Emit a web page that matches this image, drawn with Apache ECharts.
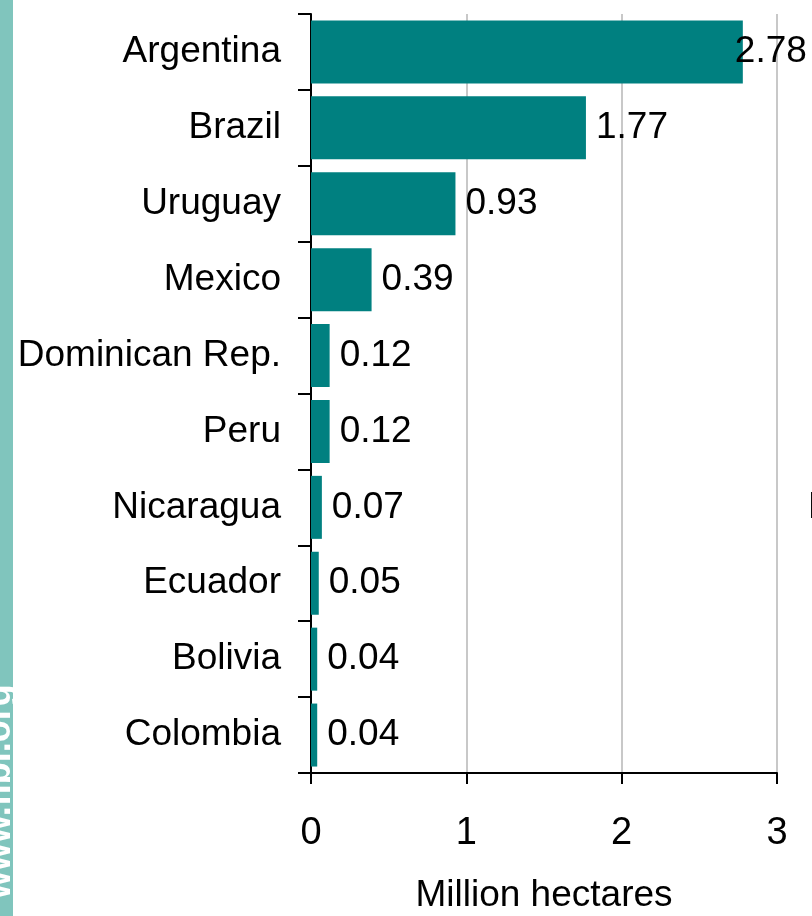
<!DOCTYPE html>
<html>
<head>
    <meta charset="UTF-8">
    <title>Organic land Latin America</title>
    <script src="https://cdn.jsdelivr.net/npm/echarts@6/dist/echarts.min.js"></script>
</head>
<body style="margin: 0;overflow: hidden;background: #fff;">
<div id="chart" style="width: 812px;height: 916px"></div>
<script type="text/javascript">
    // top to bottom as drawn
    var countries = ['Argentina', 'Brazil', 'Uruguay', 'Mexico', 'Dominican Rep.', 'Peru',
        'Nicaragua', 'Ecuador', 'Bolivia', 'Colombia'];
    var hectares = [2.78, 1.77, 0.93, 0.39, 0.12, 0.12, 0.07, 0.05, 0.04, 0.04];
    var xTicks = [0, 1, 2, 3];

    var font = 'Liberation Sans, Arial, sans-serif';
    var chart = echarts.init(document.getElementById('chart'));

    // the biggest label gets pulled back onto its bar so it stays inside the plot
    var barData = hectares.map(function (v, i) {
        if (v > 2.6) {
            return {value: v, label: {distance: -8}};
        }
        return v;
    });

    var option = {
        backgroundColor: '#fff',
        animation: false,
        grid: {left: 311, right: 35, top: 14, bottom: 143, outerBoundsMode: 'none'},
        xAxis: {
            type: 'value',
            min: xTicks[0],
            max: xTicks[xTicks.length - 1],
            interval: 1,
            name: 'Million hectares',
            nameLocation: 'middle',
            nameGap: 104,
            nameTextStyle: {color: '#000', fontSize: 37, fontFamily: font},
            axisLine: {show: true, lineStyle: {color: '#000', width: 2}},
            axisTick: {show: true, length: 11, lineStyle: {color: '#000', width: 2}},
            axisLabel: {color: '#000', fontSize: 38, fontFamily: font, margin: 42},
            splitLine: {show: true, lineStyle: {color: '#c8c8c8', width: 2}}
        },
        yAxis: {
            type: 'category',
            data: countries,
            inverse: true,
            axisLine: {show: true, lineStyle: {color: '#000', width: 2}},
            axisTick: {show: true, length: 13, lineStyle: {color: '#000', width: 2}},
            axisLabel: {color: '#000', fontSize: 37, fontFamily: font, margin: 30, padding: [4, 0, 0, 0]},
            splitLine: {show: false}
        },
        series: [{
            type: 'bar',
            data: barData,
            barCategoryGap: '17%',
            itemStyle: {color: '#008080'},
            label: {
                show: true,
                position: 'right',
                distance: 10,
                padding: [4, 0, 0, 0],
                color: '#000',
                fontSize: 37,
                fontFamily: font,
                formatter: function (p) {
                    return p.value.toFixed(2);
                }
            }
        }],
        graphic: [{
            type: 'rect',
            left: 0,
            top: 0,
            shape: {width: 13, height: 916},
            style: {fill: '#80c5bd'},
            z: 1
        }, {
            type: 'text',
            x: 18,
            y: 899,
            rotation: Math.PI / 2,
            z: 2,
            style: {
                text: 'www.fibl.org',
                fill: '#fff',
                font: 'bold 36px ' + font,
                textAlign: 'left',
                textVerticalAlign: 'bottom'
            }
        }, {
            type: 'text',
            x: 808,
            y: 489,
            style: {
                text: 'M',
                fill: '#000',
                font: '37px ' + font
            }
        }]
    };
    chart.setOption(option);
</script>
</body>
</html>
